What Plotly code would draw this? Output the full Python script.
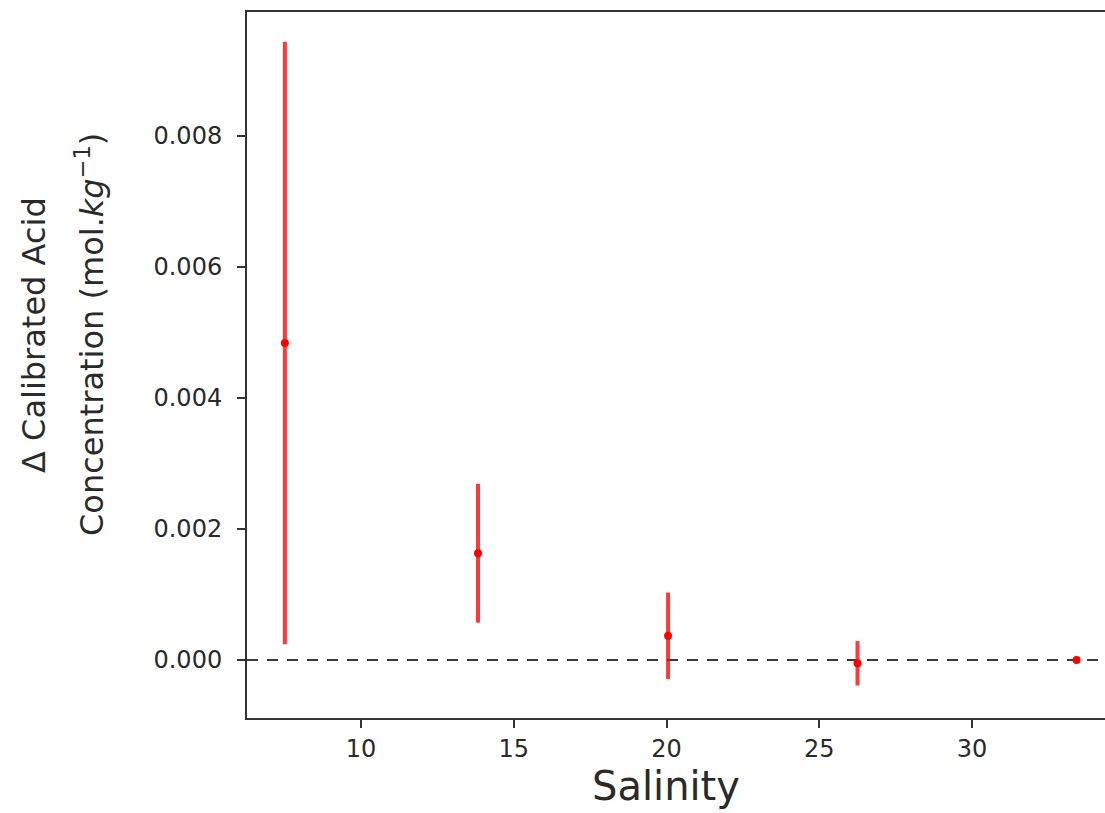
import plotly.graph_objects as go

# Salinity of each calibration batch and the change in calibrated acid concentration
salinity = [7.51, 13.83, 20.05, 26.25, 33.42]
delta_acid = [0.00484, 0.00163, 0.00037, -0.00005, 0.0]
delta_err = [0.0046, 0.00106, 0.00066, 0.00034, 0.0]

x_ticks = [10, 15, 20, 25, 30]
y_ticks = [0.000, 0.002, 0.004, 0.006, 0.008]

W, H = 1105, 813
FONT = "DejaVu Sans"
AXIS_COLOR = "#333333"
TEXT_COLOR = "#2a2a2a"

fig = go.Figure()

fig.add_trace(go.Scatter(
    x=salinity,
    y=delta_acid,
    mode="markers",
    marker=dict(color="red", size=8, line=dict(width=0)),
    error_y=dict(
        type="data",
        array=delta_err,
        visible=True,
        color="rgba(255,0,0,0.78)",
        thickness=4,
        width=0,
    ),
    showlegend=False,
))

# zero reference line
fig.add_shape(
    type="line", xref="paper", yref="y",
    x0=0, x1=1, y0=0, y1=0,
    line=dict(color="#3a3a3a", width=2, dash="11px,9px"),
    layer="below",
)

fig.update_layout(
    width=W, height=H,
    margin=dict(l=247, r=0, t=12, b=95),
    paper_bgcolor="white",
    plot_bgcolor="white",
    font=dict(family=FONT, color=TEXT_COLOR, size=24),
    xaxis=dict(
        range=[6.27, 34.35],
        tickvals=x_ticks,
        ticktext=[str(v) for v in x_ticks],
        ticks="outside", ticklen=8, tickwidth=1.5, tickcolor=AXIS_COLOR,
        showline=True, linecolor=AXIS_COLOR, linewidth=2, mirror=True,
        showgrid=False, zeroline=False,
        tickfont=dict(family=FONT, size=24, color=TEXT_COLOR),
    ),
    yaxis=dict(
        range=[-0.000885, 0.009893],
        tickvals=y_ticks,
        ticktext=[f"{v:.3f}" for v in y_ticks],
        ticks="outside", ticklen=8, tickwidth=1.5, tickcolor=AXIS_COLOR,
        showline=True, linecolor=AXIS_COLOR, linewidth=2,
        showgrid=False, zeroline=False,
        tickfont=dict(family=FONT, size=24, color=TEXT_COLOR),
        ticklabelstandoff=10,
    ),
    annotations=[
        dict(
            text="Salinity", xref="paper", yref="paper",
            x=0, y=0, xshift=666 - 247, yshift=-(786 - 718),
            xanchor="center", yanchor="middle", showarrow=False,
            font=dict(family=FONT, size=40, color=TEXT_COLOR),
        ),
        dict(
            text="Δ Calibrated Acid", xref="paper", yref="paper",
            x=0, y=0.5, xshift=34 - 247, yshift=30, textangle=-90,
            xanchor="center", yanchor="middle", showarrow=False,
            font=dict(family=FONT, size=32, color=TEXT_COLOR),
        ),
        dict(
            text="Concentration (mol.<i>kg</i><sup>−1</sup>)", xref="paper", yref="paper",
            x=0, y=0.5, xshift=90 - 247, yshift=30, textangle=-90,
            xanchor="center", yanchor="middle", showarrow=False,
            font=dict(family=FONT, size=32, color=TEXT_COLOR),
        ),
    ],
)

fig.write_html("out.html")
